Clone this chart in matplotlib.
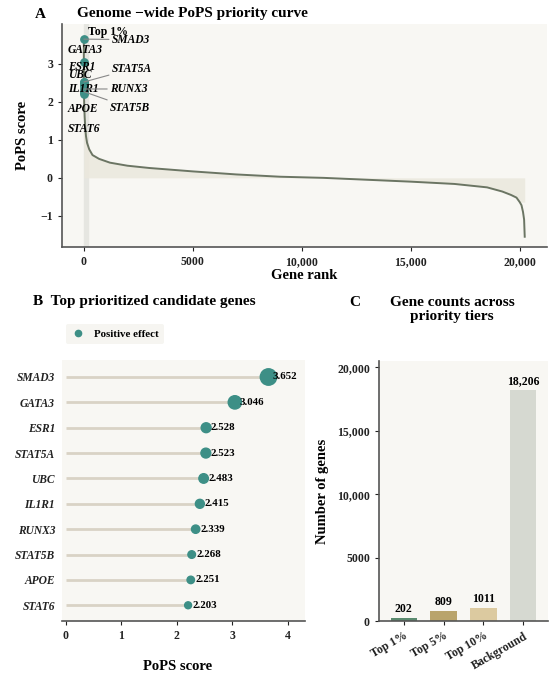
import numpy as np
import matplotlib
matplotlib.use("Agg")
import matplotlib.pyplot as plt
from matplotlib.ticker import FuncFormatter
from matplotlib.lines import Line2D

plt.rcParams['font.family'] = ['Liberation Serif', 'DejaVu Serif']
plt.rcParams['font.weight'] = 'bold'
plt.rcParams['axes.unicode_minus'] = True

# --- data ---------------------------------------------------------------
genes = ["SMAD3", "GATA3", "ESR1", "STAT5A", "UBC", "IL1R1", "RUNX3", "STAT5B", "APOE", "STAT6"]
gene_scores = [3.652, 3.046, 2.528, 2.523, 2.483, 2.415, 2.339, 2.268, 2.251, 2.203]

# rank / score pairs
curve_rank = [1, 2, 3, 4, 5, 6, 7, 8, 9, 10, 20, 40, 70, 100, 150, 250, 400, 700,
              1200, 2000, 3000, 5000, 7000, 9000, 11000, 13000, 15000, 17000,
              18500, 19200, 19600, 19850, 20000, 20080, 20150, 20200, 20228]
curve_score = [3.652, 3.046, 2.528, 2.523, 2.483, 2.415, 2.339, 2.268, 2.251, 2.203,
               1.9, 1.6, 1.3, 1.1, 0.92, 0.75, 0.6, 0.5, 0.4, 0.32, 0.26, 0.17,
               0.09, 0.03, 0.0, -0.05, -0.1, -0.16, -0.25, -0.36, -0.45, -0.52,
               -0.64, -0.72, -0.9, -1.1, -1.55]
top1_cut = 202

tiers = ["Top 1%", "Top 5%", "Top 10%", "Background"]
tier_counts = [202, 809, 1011, 18206]
tier_colors = ["#5b8b6f", "#b9a46c", "#dccaa0", "#d6d9d1"]

TEAL = "#3d8f86"
BG = "#f8f7f3"
SPINE = "#555555"

W, H = 550, 679
fig = plt.figure(figsize=(W / 100, H / 100), dpi=100)
fig.patch.set_facecolor("white")


def px_axes(l, t, r, b):
    return fig.add_axes([l / W, 1 - b / H, (r - l) / W, (b - t) / H])


def comma_fmt(v, pos):
    v = int(round(v))
    return f"{v:,}" if abs(v) >= 10000 else f"{v}"


def style_axes(ax):
    ax.set_facecolor(BG)
    for s in ["top", "right"]:
        ax.spines[s].set_visible(False)
    for s in ["left", "bottom"]:
        ax.spines[s].set_color(SPINE)
        ax.spines[s].set_linewidth(1.2)
    ax.tick_params(colors="#222222", labelsize=8.5, length=3, width=0.8)


def bold_ticks(ax):
    for lab in ax.get_xticklabels() + ax.get_yticklabels():
        lab.set_fontweight("bold")


# --- panel A ------------------------------------------------------------
axA = px_axes(62, 24, 547, 247)
style_axes(axA)
r = np.array(curve_rank)
s = np.array(curve_score)
axA.axvspan(0, top1_cut, color="#e6e6e1", zorder=0.5)
axA.fill_between(r, np.clip(s, -0.64, None), 0, color="#ebe8dd", alpha=0.85, lw=0, zorder=1)
axA.plot(r, s, color="#6b7563", lw=1.4, zorder=2)
axA.scatter(range(1, len(genes) + 1), gene_scores, s=28, color=TEAL, zorder=4)
axA.set_xlim(-1000, 21250)
axA.set_ylim(-1.82, 4.05)
axA.set_xticks([0, 5000, 10000, 15000, 20000])
axA.set_yticks([-1, 0, 1, 2, 3])
axA.xaxis.set_major_formatter(FuncFormatter(comma_fmt))
axA.set_xlabel("Gene rank", fontsize=10.5, fontweight="bold", labelpad=1)
axA.set_ylabel("PoPS score", fontsize=10.5, fontweight="bold", labelpad=8)
bold_ticks(axA)

axA.text(180, 3.84, "Top 1%", fontsize=8.5, fontweight="bold", va="center", zorder=5)
# label placement (text x, text y, draw leader line)
label_pos = {
    "SMAD3": (1280, 3.64, True), "GATA3": (-730, 3.37, False),
    "ESR1": (-730, 2.93, False), "UBC": (-730, 2.72, False),
    "STAT5A": (1280, 2.87, True), "IL1R1": (-730, 2.34, False),
    "RUNX3": (1200, 2.34, True), "STAT5B": (1200, 1.84, True),
    "APOE": (-730, 1.82, False), "STAT6": (-730, 1.29, False),
}
for i, (g, sc) in enumerate(zip(genes, gene_scores)):
    tx, ty, lead = label_pos[g]
    if lead:
        axA.annotate(g, xy=(i + 1, sc), xytext=(tx, ty), fontsize=8.3,
                     fontweight="bold", style="italic", va="center", ha="left",
                     arrowprops=dict(arrowstyle="-", color="#888888", lw=0.8,
                                     shrinkA=0, shrinkB=0), zorder=5)
    else:
        axA.text(tx, ty, g, fontsize=8.3, fontweight="bold", style="italic",
                 va="center", ha="left", zorder=5)

fig.text(40 / W, 1 - 14 / H, "A", fontsize=11, fontweight="bold", ha="center", va="center")
fig.text(77 / W, 1 - 14 / H, "Genome \u2212wide PoPS priority curve", fontsize=11,
         fontweight="bold", ha="left", va="center")

# --- panel B ------------------------------------------------------------
axB = px_axes(62, 360, 305, 621)
style_axes(axB)
axB.spines["left"].set_visible(False)
ypos = np.arange(len(genes))[::-1]
smin, smax = min(gene_scores), max(gene_scores)
sizes = [25 + (v - smin) / (smax - smin) * 115 for v in gene_scores]
axB.hlines(ypos, 0, gene_scores, color="#d9d3c5", lw=2, zorder=1)
axB.scatter(gene_scores, ypos, s=sizes, color=TEAL, zorder=3)
for v, y in zip(gene_scores, ypos):
    axB.text(v + 0.08, y, f"{v:.3f}", fontsize=7.8, fontweight="bold", va="center", ha="left", zorder=4)
axB.set_yticks(ypos)
axB.set_yticklabels(genes, fontsize=8.3, fontweight="bold", style="italic")
axB.tick_params(axis="y", length=0, pad=5)
axB.set_xlim(-0.07, 4.31)
axB.set_ylim(-0.62, 9.67)
axB.set_xticks([0, 1, 2, 3, 4])
for lab in axB.get_xticklabels():
    lab.set_fontweight("bold")
leg_handle = Line2D([], [], marker="o", ls="", color=TEAL, markersize=4.5)
leg = fig.legend([leg_handle], ["Positive effect"], loc="center left",
                 bbox_to_anchor=(66 / W, 1 - 334 / H), frameon=True, fontsize=7.8,
                 handlelength=1.2, handletextpad=0.9, borderpad=0.5, borderaxespad=0)
leg.get_frame().set_facecolor("#f4f3ee")
leg.get_frame().set_edgecolor("none")
for t in leg.get_texts():
    t.set_fontweight("bold")
fig.text(178 / W, 1 - 667 / H, "PoPS score", fontsize=10.5, fontweight="bold", ha="center", va="center")
fig.text(33 / W, 1 - 302 / H, "B  Top prioritized candidate genes", fontsize=11,
         fontweight="bold", ha="left", va="center")

# --- panel C ------------------------------------------------------------
axC = px_axes(379, 361, 548, 621)
style_axes(axC)
xc = np.arange(len(tiers))
axC.bar(xc, tier_counts, width=0.66, color=tier_colors, zorder=2)
for x, c in zip(xc, tier_counts):
    axC.text(x, c + 250, f"{c:,}" if c >= 10000 else f"{c}", fontsize=8.5,
             fontweight="bold", ha="center", va="bottom")
axC.set_xlim(-0.62, 3.62)
axC.set_ylim(0, 20500)
axC.set_xticks(xc)
axC.set_xticklabels(tiers, rotation=30, ha="right", rotation_mode="anchor", fontsize=8.5, fontweight="bold")
axC.set_yticks([0, 5000, 10000, 15000, 20000])
axC.yaxis.set_major_formatter(FuncFormatter(comma_fmt))
for lab in axC.get_yticklabels():
    lab.set_fontweight("bold")
axC.set_ylabel("Number of genes", fontsize=10.5, fontweight="bold", labelpad=6)
fig.text(355 / W, 1 - 302 / H, "C", fontsize=11, fontweight="bold", ha="center", va="center")
fig.text(452 / W, 1 - 310 / H, "Gene counts across\npriority tiers", fontsize=11,
         fontweight="bold", ha="center", va="center", linespacing=1.1)

fig.savefig("out.png", dpi=100)
